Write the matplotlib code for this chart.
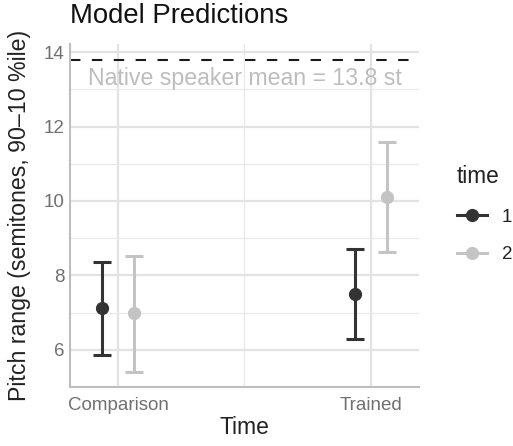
import matplotlib
matplotlib.use("Agg")
import matplotlib.pyplot as plt
from matplotlib.lines import Line2D
import numpy as np

plt.rcParams['font.family'] = ['Liberation Sans', 'DejaVu Sans']

categories = ["Comparison", "Trained"]
times = ["1", "2"]
means = {"1": [7.12, 7.50], "2": [6.98, 10.11]}
lower = {"1": [5.85, 6.29], "2": [5.41, 8.62]}
upper = {"1": [8.37, 8.71], "2": [8.53, 11.58]}
colors = {"1": "#333333", "2": "#c4c4c4"}
native_mean = 13.8

fig = plt.figure(figsize=(5.13, 4.46), dpi=100)
ax = fig.add_axes([70/513, 1-387/446, (419-70)/513, (387-44)/446])

x = np.arange(1, len(categories) + 1)
dodge = 0.063
for i, t in enumerate(times):
    off = -dodge if i == 0 else dodge
    m = np.array(means[t]); lo = np.array(lower[t]); hi = np.array(upper[t])
    ax.errorbar(x + off, m, yerr=[m - lo, hi - m], fmt='o', color=colors[t],
                ms=8.5, elinewidth=2.2, capsize=6.5, capthick=2.2, zorder=3)

ax.axhline(native_mean, color='#1a1a1a', ls=(0, (5.0, 5.5)), lw=1.5, zorder=2)
ax.text(1.5, native_mean - 0.5, f"Native speaker mean = {native_mean} st",
        color='#bdbdbd', fontsize=16.7, ha='center', va='center', zorder=2)

ax.set_xlim(0.81, 2.19)
ax.set_ylim(5.0, 14.22)
ax.set_xticks(x)
ax.set_xticklabels(categories)
ax.set_yticks([6, 8, 10, 12, 14])
ax.set_yticks([7, 9, 11, 13], minor=True)
ax.set_xticks([1.5], minor=True)

ax.grid(True, which='major', color='#e3e3e3', lw=1.6, zorder=0)
ax.grid(True, which='minor', color='#e9e9e9', lw=0.9, zorder=0)
ax.set_axisbelow(True)
for s in ['top', 'right']:
    ax.spines[s].set_visible(False)
for s in ['left', 'bottom']:
    ax.spines[s].set_color('#bebebe')
    ax.spines[s].set_linewidth(1.5)
ax.tick_params(which='both', length=0, labelcolor='#707070', labelsize=13.5)
ax.tick_params(axis='x', pad=7.5)
ax.tick_params(axis='y', pad=4)

ax.set_xlabel("Time", fontsize=16.5, color='#222222', labelpad=1)
ax.set_ylabel("Pitch range (semitones, 90–10 %ile)", fontsize=16.7, color='#222222', labelpad=9)
fig.text(70/513, 1-16/446, "Model Predictions", fontsize=19.8, color='#111111', va='center', ha='left')

handles = [Line2D([], [], color=colors[t], marker='o', ms=8.5, lw=2.2) for t in times]
leg = fig.legend(handles, times, title="time", loc='upper left',
                 bbox_to_anchor=(440/513, 1-148/446), frameon=False,
                 fontsize=13.5, title_fontsize=16.3, handlelength=1.6,
                 labelspacing=1.1, alignment='left')
leg.get_title().set_color('#222222')
for txt in leg.get_texts():
    txt.set_color('#222222')

fig.savefig("out.png", dpi=100)
